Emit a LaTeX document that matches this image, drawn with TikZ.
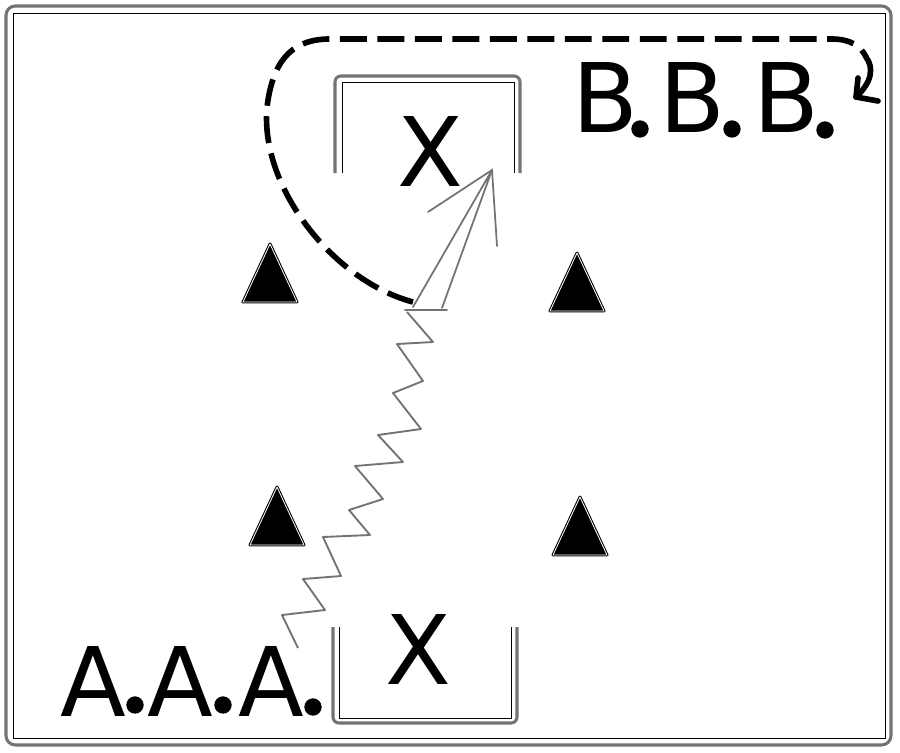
\documentclass[tikz,border=0pt]{standalone}
\usepackage{fontspec}
\setmainfont{DejaVu Sans}
\usetikzlibrary{arrows.meta}
\colorlet{linegray}{black!55}

\begin{document}
\begin{tikzpicture}[x=0.03cm, y=-0.03cm,
        big/.style={inner sep=0pt, font=\fontsize{82}{90}\selectfont},
        pdot/.style={circle, fill=black, inner sep=0pt, minimum size=0.52cm},
        wall/.style={draw=linegray, line width=2.6pt, rounded corners=5pt},
        wallin/.style={draw=black, line width=0.8pt},
        run/.style={draw=linegray, line width=1.6pt, line join=round},
        pass/.style={draw=linegray, line width=1.5pt, line cap=round},
        curl/.style={draw=black, line width=4.8pt, dash pattern=on 23pt off 9pt},
        curlend/.style={draw=black, line width=4.8pt, line cap=round, line join=round},
        cone/.pic={\draw[fill=black, line width=0.9pt, double=white, double distance=0.7pt, line join=round] (0,0) -- (-27,58) -- (27,58) -- cycle;}]
        \useasboundingbox (0,0) rectangle (900,752);

        % frame
        \draw[wall, rounded corners=8pt] (6,6) rectangle (891,745);
        \draw[wallin] (13,13) rectangle (885,738);

        % goals
        \draw[wall] (335,173) -- (335,76) -- (520,76) -- (520,173);
        \draw[wallin] (342,173) -- (342,82) -- (514,82) -- (514,173);
        \draw[wall] (333,627) -- (333,723) -- (517,723) -- (517,627);
        \draw[wallin] (339,627) -- (339,718) -- (511,718) -- (511,627);
        \node[big] (xtop) at (430,151) {X};
        \node[big] (xbot) at (418,649) {X};

        % cones
        \pic (cone1) at (270,244) {cone};
        \pic (cone2) at (577,253) {cone};
        \pic (cone3) at (277,487) {cone};
        \pic (cone4) at (580,497) {cone};

        % players by coordinates
        \node[big, anchor=base] (a1) at (93,716) {A};
        \node[big, anchor=base] (a2) at (180,716) {A};
        \node[big, anchor=base] (a3) at (271,716) {A};
        \node[pdot] (a1dot) at (135,705) {};
        \node[pdot] (a2dot) at (223,705) {};
        \node[pdot] (a3dot) at (313,707) {};
        \node[big, anchor=base] (b1) at (605,132) {B};
        \node[big, anchor=base] (b2) at (692,132) {B};
        \node[big, anchor=base] (b3) at (786,132) {B};
        \node[pdot] (b1dot) at (640,129) {};
        \node[pdot] (b2dot) at (732,129) {};
        \node[pdot] (b3dot) at (825,130) {};

        % run with the ball
        \coordinate (runA) at (298,648);
        \coordinate (runB) at (407,312);
        \draw[run] (runA) -- (282,615) -- (325,610) -- (303,579) -- (341,576)
            -- (323,537) -- (370,535) -- (349,510) -- (383,499) -- (355,466)
            -- (403,462) -- (378,435) -- (421,429) -- (393,393) -- (423,381)
            -- (397,344) -- (433,342) -- (runB);

        % shot
        \coordinate (shot) at (492,170);
        \coordinate (shotL) at (413,307);
        \coordinate (shotR) at (442,308);
        \coordinate (barbL) at (428,212);
        \coordinate (barbR) at (497,246);
        \coordinate (footL) at (405,310);
        \coordinate (footR) at (447,310);
        \draw[pass] (shotL) -- (shot) -- (shotR);
        \draw[pass] (barbL) -- (shot) -- (barbR);
        \draw[pass] (footL) -- (footR);

        % run back to the line
        \coordinate (turn) at (413,302);
        \coordinate (hook) at (866,57);
        \coordinate (back) at (856,97);
        \coordinate (hookup) at (858,78);
        \coordinate (hookright) at (878,101);
        \draw[curl] (turn) .. controls (330,280) and (255,180) .. (268,100)
            .. controls (275,57) and (295,39) .. (330,39) -- (832,39)
            .. controls (850,39) and (861,46) .. (hook);
        \draw[curlend] (hook) .. controls (874,68) and (872,82) .. (back);
        \draw[curlend] (hookup) -- (back) -- (hookright);
\end{tikzpicture}
\end{document}
